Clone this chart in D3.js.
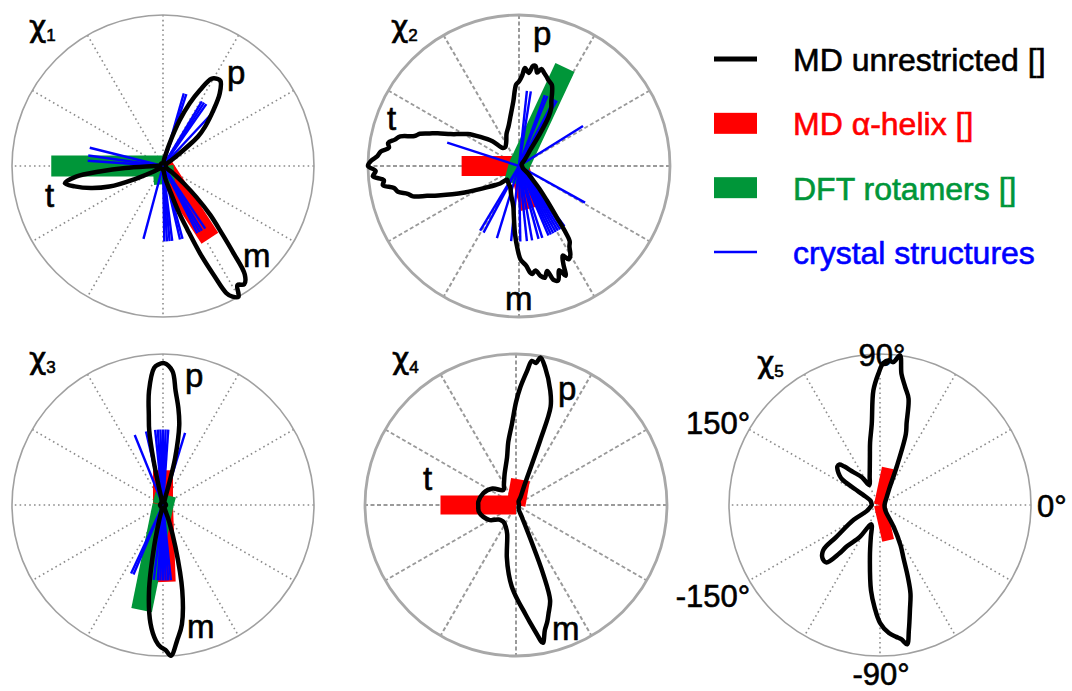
<!DOCTYPE html>
<html>
<head>
<meta charset="utf-8">
<script src="https://cdn.jsdelivr.net/npm/d3@7"></script>
<style>
  body { margin: 0; background: #fff; }
  svg { display: block; font-family: "Liberation Sans", Arial, Helvetica, sans-serif; }
</style>
</head>
<body>
<svg id="chart" width="1072" height="691"></svg>
<script>
// ---- data (angles in degrees, counter-clockwise from east; radii as fraction of max) ----

// MD unrestricted distributions
const chi1Ang = [-180, -177, -175, -173, -170, -167, -163, -159, -155, -150, -145, -135, -110, -85, -80, -77, -74, -71, -69, -67, -65, -63.5, -62, -60, -58, -55.5, -53, -51, -49, -46, -43, -40, -35, -25, 0, 25, 35, 40, 43, 48, 52, 56, 58, 61, 64, 67, 70, 74, 80, 90, 120, 160, 175];
const chi1R   = [0.06, 0.25, 0.42, 0.58, 0.66, 0.6, 0.5, 0.38, 0.2, 0.08, 0.03, 0.02, 0.02, 0.03, 0.08, 0.12, 0.18, 0.33, 0.45, 0.63, 0.8, 0.94, 0.98, 1.0, 0.93, 0.95, 0.9, 0.74, 0.6, 0.45, 0.3, 0.18, 0.07, 0.02, 0.02, 0.02, 0.08, 0.3, 0.38, 0.5, 0.61, 0.68, 0.68, 0.66, 0.56, 0.45, 0.32, 0.15, 0.05, 0.02, 0.02, 0.02, 0.03];

const chi2Ang = [-178, -176, -174, -172, -170, -168, -166, -164, -162, -160, -157, -154, -151, -146, -141, -137, -131, -124, -118, -113, -105, -98, -96, -93.4, -91, -89, -86, -84, -83, -81, -79, -77, -75, -73, -71, -69, -67, -65.6, -64, -62, -60, -58, -56, -55, -53.6, -51, -48, -45, -40, -30, 0, 30, 45, 50, 55, 57, 59, 61, 63.5, 66, 68, 71, 73, 75, 77, 79, 80.5, 82, 84, 86.5, 88, 90, 92, 95, 100, 105, 111, 118, 126, 132, 137, 143, 148, 152, 155, 158, 160, 162, 164, 166, 168, 170, 172, 174, 176, 178, 180];
const chi2R   = [0.95, 0.97, 0.9, 0.91, 0.84, 0.82, 0.76, 0.73, 0.64, 0.57, 0.48, 0.4, 0.33, 0.25, 0.2, 0.17, 0.12, 0.13, 0.14, 0.15, 0.2, 0.27, 0.33, 0.45, 0.55, 0.62, 0.66, 0.71, 0.72, 0.7, 0.74, 0.76, 0.72, 0.79, 0.8, 0.74, 0.79, 0.71, 0.66, 0.7, 0.68, 0.63, 0.6, 0.54, 0.42, 0.29, 0.2, 0.13, 0.08, 0.03, 0.02, 0.02, 0.04, 0.07, 0.13, 0.25, 0.38, 0.44, 0.48, 0.54, 0.58, 0.6, 0.62, 0.64, 0.66, 0.63, 0.67, 0.67, 0.62, 0.65, 0.6, 0.56, 0.54, 0.43, 0.33, 0.27, 0.23, 0.18, 0.155, 0.16, 0.24, 0.32, 0.4, 0.45, 0.5, 0.58, 0.63, 0.69, 0.72, 0.81, 0.84, 0.88, 0.87, 0.92, 0.94, 0.98, 1.0];

const chi3Ang = [-180, -120, -107, -104, -102, -99.2, -96, -93, -91, -89, -87, -84, -81, -77.3, -73.5, -69.4, -66, -60, 0, 60, 72, 74, 75.5, 78.5, 81, 83.7, 86, 89.6, 92, 93.7, 97, 99, 100.5, 102, 103, 105, 120];
const chi3R   = [0.02, 0.02, 0.03, 0.11, 0.29, 0.58, 0.79, 0.9, 0.94, 0.96, 1.0, 0.9, 0.8, 0.58, 0.29, 0.11, 0.03, 0.02, 0.02, 0.02, 0.04, 0.14, 0.32, 0.54, 0.65, 0.76, 0.89, 0.94, 0.93, 0.91, 0.76, 0.6, 0.5, 0.3, 0.12, 0.04, 0.02];

const chi4Ang = [-180, -170, -160, -150, -140, -132, -125, -115, -107, -100, -96, -93, -89, -86, -83, -81, -79, -77, -75, -73.3, -70.3, -68.5, -67, -64, -55, 0, 55, 60, 66, 68, 69.5, 70.6, 73.3, 78, 80.6, 82, 83.7, 85.3, 87.9, 90, 92.8, 97, 100.7, 110, 120, 130, 145, 160, 175];
const chi4R   = [0.25, 0.25, 0.23, 0.2, 0.15, 0.14, 0.14, 0.16, 0.2, 0.35, 0.46, 0.54, 0.63, 0.7, 0.79, 0.86, 0.93, 0.85, 0.8, 0.75, 0.67, 0.49, 0.25, 0.09, 0.03, 0.02, 0.03, 0.06, 0.12, 0.2, 0.46, 0.69, 0.79, 0.93, 0.99, 0.95, 0.96, 0.89, 0.78, 0.68, 0.54, 0.42, 0.32, 0.22, 0.16, 0.13, 0.19, 0.23, 0.25];

const chi5Ang = [-180, -165, -155, -150.6, -143.8, -141.5, -137, -133, -130, -128.7, -122.3, -118, -114, -111, -106, -101, -96, -93, -90, -86, -83, -81, -79, -77, -74, -71, -69, -66, -63, -58, -45, 0, 50, 60, 66.5, 70, 72, 75, 78, 80.7, 82.4, 84.7, 86.5, 88.7, 90.7, 93.3, 95.8, 99, 101.7, 110, 118, 123, 129, 133, 135, 138, 141, 144, 146, 147.5, 149, 155, 165];
const chi5R   = [0.055, 0.07, 0.1, 0.2, 0.36, 0.48, 0.52, 0.52, 0.42, 0.35, 0.25, 0.16, 0.14, 0.15, 0.22, 0.35, 0.57, 0.68, 0.78, 0.85, 0.88, 0.9, 0.94, 0.85, 0.72, 0.62, 0.52, 0.38, 0.3, 0.17, 0.05, 0.03, 0.07, 0.12, 0.28, 0.5, 0.57, 0.73, 0.8, 0.88, 1.0, 0.95, 0.96, 0.94, 0.87, 0.76, 0.54, 0.42, 0.33, 0.2, 0.15, 0.22, 0.28, 0.35, 0.38, 0.38, 0.36, 0.33, 0.3, 0.2, 0.13, 0.07, 0.06];

// MD alpha-helix (red bars)
const chi1HelixAng = [-57],      chi1HelixLen = [0.57];
const chi2HelixAng = [180, -75], chi2HelixLen = [0.38, 0.29];
const chi3HelixAng = [90, -88],  chi3HelixLen = [0.23, 0.51];
const chi4HelixAng = [180, 80],  chi4HelixLen = [0.5, 0.17];
const chi5HelixAng = [78, -77],  chi5HelixLen = [0.25, 0.24];

// DFT rotamers (green bars)
const chi1DftAng = [180, -85],    chi1DftLen = [0.74, 0.12];
const chi2DftAng = [65, -105],    chi2DftLen = [0.72, 0.12];
const chi3DftAng = [-101.5, 75],  chi3DftLen = [0.71, 0.07];
const chi4DftAng = [],            chi4DftLen = [];
const chi5DftAng = [],            chi5DftLen = [];

// crystal structures (blue lines, fixed length)
const crystalLen = 0.5;
const chi1Crystal = [166, 172, 176, 47, 55, 57, 59, 72, 74, -56, -59, -61, -63, -75, -77, -83, -85, -87, -89, -105];
const chi2Crystal = [162, 32, 60, 62, 68, 70, 81, 84, -29, -53, -55, -57, -59, -61, -63, -65, -67, -72, -75, -80, -84, -89, -96, -107, -118, -121];
const chi3Crystal = [112, 103, 96, 94, 92, 90, 88, 86, 73, -113, -115, -97, -94, -92, -90, -88, -86, -84];
const chi4Crystal = [];
const chi5Crystal = [];

// angle tick labels (chi5 only)
const tickAngles = [90, 0, -90, 150, -150];
const tickLabels = ["90°", "0°", "-90°", "150°", "-150°"];

// legend
const legendLabels = ["MD unrestricted []", "MD \u03b1-helix []", "DFT rotamers []", "crystal structures"];
const legendColors = ["#000000", "#ff0000", "#009639", "#0000ff"];

// ---- layout ----
const R = 151;
const rScale = d3.scaleLinear().domain([0, 1]).range([0, R]);
const rad = a => (90 - a) * Math.PI / 180; // math angle -> d3 radial angle

const panels = [
  {sub: "1", cx: 163, cy: 166, ang: chi1Ang, r: chi1R, hA: chi1HelixAng, hL: chi1HelixLen, dA: chi1DftAng, dL: chi1DftLen, cry: chi1Crystal,
   dashed: false, hW: 20, title: [-134, -129], lobes: [["p", 64, -82], ["t", -118, 41], ["m", 80, 101]]},
  {sub: "2", cx: 519, cy: 166, ang: chi2Ang, r: chi2R, hA: chi2HelixAng, hL: chi2HelixLen, dA: chi2DftAng, dL: chi2DftLen, cry: chi2Crystal,
   dashed: true, hW: 20, title: [-128, -129], lobes: [["p", 14, -121], ["t", -132, -36], ["m", -14, 144]]},
  {sub: "3", cx: 163, cy: 505, ang: chi3Ang, r: chi3R, hA: chi3HelixAng, hL: chi3HelixLen, dA: chi3DftAng, dL: chi3DftLen, cry: chi3Crystal,
   dashed: false, hW: 20, title: [-134, -136], lobes: [["p", 22, -118], ["m", 24, 133]]},
  {sub: "4", cx: 516, cy: 505, ang: chi4Ang, r: chi4R, hA: chi4HelixAng, hL: chi4HelixLen, dA: chi4DftAng, dL: chi4DftLen, cry: chi4Crystal,
   dashed: true, hW: 19, title: [-124, -136], lobes: [["p", 42, -105], ["t", -93, -15], ["m", 36, 135]]},
  {sub: "5", cx: 880, cy: 505, ang: chi5Ang, r: chi5R, hA: chi5HelixAng, hL: chi5HelixLen, dA: chi5DftAng, dL: chi5DftLen, cry: chi5Crystal,
   dashed: false, hW: 12, title: [-123, -132], lobes: [], ticks: true}
];

const svg = d3.select("#chart");

const radialLine = d3.lineRadial()
  .angle(d => rad(d[0]))
  .radius(d => rScale(d[1]))
  .curve(d3.curveCatmullRomClosed.alpha(0.5));

// text in the reference renders a bit heavy
const heavy = (sel, color) => sel.attr("fill", color).attr("stroke", color).attr("stroke-width", 0.6);

panels.forEach(p => {
  const g = svg.append("g").attr("transform", `translate(${p.cx},${p.cy})`);

  // grid spokes every 30 degrees
  g.selectAll(".spoke")
    .data(d3.range(0, 180, 30))
    .enter().append("line")
    .attr("class", "spoke")
    .attr("x1", d => d3.pointRadial(rad(d), R)[0])
    .attr("y1", d => d3.pointRadial(rad(d), R)[1])
    .attr("x2", d => d3.pointRadial(rad(d + 180), R)[0])
    .attr("y2", d => d3.pointRadial(rad(d + 180), R)[1])
    .attr("stroke", p.dashed ? "#9a9a9a" : "#8c8c8c")
    .attr("stroke-width", p.dashed ? 2 : 1.6)
    .attr("stroke-dasharray", p.dashed ? "4,2.5" : "1.6,3.2");

  g.append("circle")
    .attr("r", R)
    .attr("fill", "none")
    .attr("stroke", p.dashed ? "#a8a8a8" : "#a0a0a0")
    .attr("stroke-width", p.dashed ? 2.8 : 1.6);

  const bar = (cls, angs, lens, color, w) => {
    g.selectAll("." + cls)
      .data(d3.zip(angs, lens))
      .enter().append("line")
      .attr("class", cls)
      .attr("x1", 0).attr("y1", 0)
      .attr("x2", d => d3.pointRadial(rad(d[0]), rScale(d[1]))[0])
      .attr("y2", d => d3.pointRadial(rad(d[0]), rScale(d[1]))[1])
      .attr("stroke", color)
      .attr("stroke-width", w)
      .attr("stroke-linecap", "butt");
  };

  bar("helix", p.hA, p.hL, "#ff0000", p.hW);
  bar("dft", p.dA, p.dL, "#009639", 21);
  bar("crystal", p.cry, p.cry.map(() => crystalLen), "#0000ff", 2.4);

  // MD unrestricted curve
  const pts = d3.zip(p.ang, p.r).sort((a, b) => a[0] - b[0]);
  g.append("path")
    .attr("d", radialLine(pts))
    .attr("fill", "none")
    .attr("stroke", "#000")
    .attr("stroke-width", 4.5)
    .attr("stroke-linejoin", "round");

  // panel title chi_n
  const t = g.append("text")
    .attr("x", p.title[0]).attr("y", p.title[1]);
  heavy(t, "#000");
  t.append("tspan").attr("font-family", "DejaVu Sans").attr("font-size", 30).text("\u03c7");
  t.append("tspan").attr("font-size", 17).attr("dy", 4).text(p.sub);

  // lobe letters
  g.selectAll(".lobe")
    .data(p.lobes)
    .enter().append("text")
    .attr("class", "lobe")
    .attr("x", d => d[1]).attr("y", d => d[2])
    .attr("font-size", 33)
    .call(heavy, "#000")
    .text(d => d[0]);

  if (p.ticks) {
    const place = {
      "90": {anchor: "middle", dx: 2, dy: 12},
      "0": {anchor: "start", dx: 6, dy: 12},
      "-90": {anchor: "middle", dx: 1, dy: 29},
      "150": {anchor: "end", dx: 1, dy: 4},
      "-150": {anchor: "end", dx: 1, dy: 26}
    };
    g.selectAll(".tick")
      .data(d3.zip(tickAngles, tickLabels))
      .enter().append("text")
      .attr("class", "tick")
      .attr("font-size", 31)
      .attr("text-anchor", d => place[d[0]].anchor)
      .attr("x", d => d3.pointRadial(rad(d[0]), R)[0] + place[d[0]].dx)
      .attr("y", d => d3.pointRadial(rad(d[0]), R)[1] + place[d[0]].dy)
      .call(heavy, "#000")
      .text(d => d[1]);
  }
});

// ---- legend ----
const legend = svg.append("g").attr("transform", "translate(714,59)");
const rowY = d3.scalePoint().domain(legendLabels).range([0, 193]);

legendLabels.forEach((lab, i) => {
  const y = rowY(lab);
  if (i === 0 || i === 3) {
    legend.append("line")
      .attr("x1", 0).attr("x2", 43)
      .attr("y1", y).attr("y2", y)
      .attr("stroke", legendColors[i])
      .attr("stroke-width", i === 0 ? 5 : 2.4);
  } else {
    legend.append("rect")
      .attr("x", 0).attr("y", y - 10.5)
      .attr("width", 43).attr("height", 21)
      .attr("fill", legendColors[i]);
  }
  legend.append("text")
    .attr("x", 79).attr("y", y + 12)
    .attr("font-size", 32)
    .call(heavy, legendColors[i])
    .text(lab);
});
</script>
</body>
</html>
